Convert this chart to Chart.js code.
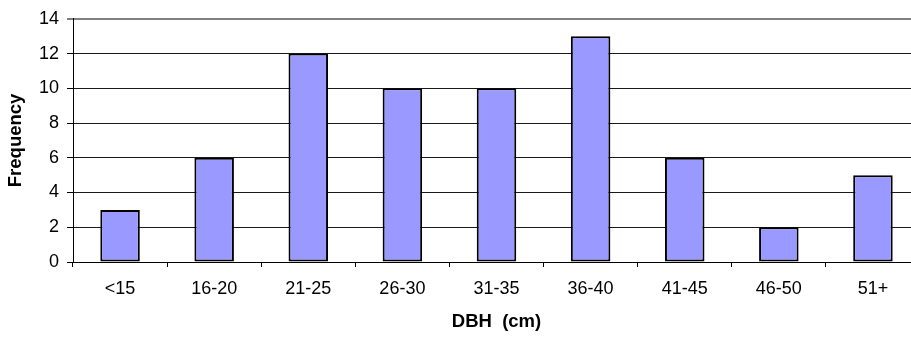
<!DOCTYPE html>
<html>
<head>
<meta charset="utf-8">
<script src="https://cdn.jsdelivr.net/npm/chart.js@4/dist/chart.umd.min.js"></script>
<style>
  html, body { margin: 0; padding: 0; background: #fff; overflow: hidden; }
  #wrap { width: 911px; height: 339px; overflow: hidden; }
  canvas { display: block; }
</style>
</head>
<body>
<div id="wrap"><canvas id="c" width="925" height="339"></canvas></div>
<script>
// DBH size classes and tree counts
const categories = ["<15", "16-20", "21-25", "26-30", "31-35", "36-40", "41-45", "46-50", "51+"];
const frequency = [3, 6, 12, 10, 10, 13, 6, 2, 5];
const yTicks = [0, 2, 4, 6, 8, 10, 12, 14];
const xTitle = "DBH  (cm)";
const yTitle = "Frequency";

const FONT = "'Liberation Sans', Arial, sans-serif";

new Chart(document.getElementById("c"), {
  type: "bar",
  data: {
    labels: categories,
    datasets: [{
      data: frequency,
      backgroundColor: "#9999FF",
      borderColor: "#000000",
      borderWidth: 2,
      borderSkipped: false,
      barPercentage: 0.42,
      categoryPercentage: 1.0
    }]
  },
  options: {
    responsive: false,
    animation: false,
    devicePixelRatio: 1,
    layout: { padding: { top: 15, right: 5, left: 0, bottom: 0 } },
    plugins: { legend: { display: false }, tooltip: { enabled: false } },
    scales: {
      x: {
        afterFit: s => { s.height = 77; },
        grid: {
          display: true,
          drawOnChartArea: false,
          offset: true,
          tickLength: 5,
          tickColor: "#000000",
          tickWidth: 1
        },
        border: { display: true, color: "#000000", width: 1 },
        ticks: {
          color: "#000000",
          font: { family: FONT, size: 18 },
          padding: 11,
          maxRotation: 0,
          autoSkip: false
        },
        title: {
          display: true,
          text: xTitle,
          color: "#000000",
          font: { family: FONT, size: 18.5, weight: "bold" },
          padding: { top: 4, bottom: 6 }
        }
      },
      y: {
        min: 0,
        max: 14,
        afterFit: s => { s.width = 73; },
        afterBuildTicks: s => { s.ticks = yTicks.map(v => ({ value: v })); },
        grid: {
          color: ctx => (ctx.tick && ctx.tick.value === 14 ? "#808080" : "#1a1a1a"),
          lineWidth: ctx => (ctx.tick && ctx.tick.value === 14 ? 2 : 1),
          tickLength: 6,
          tickColor: "#000000",
          tickWidth: 1
        },
        border: { display: true, color: "#000000", width: 1 },
        ticks: {
          color: "#000000",
          font: { family: FONT, size: 18 },
          padding: 8
        },
        title: {
          display: true,
          text: yTitle,
          color: "#000000",
          font: { family: FONT, size: 18.5, weight: "bold" },
          padding: { top: 5, bottom: 5 }
        }
      }
    }
  }
});
</script>
</body>
</html>
